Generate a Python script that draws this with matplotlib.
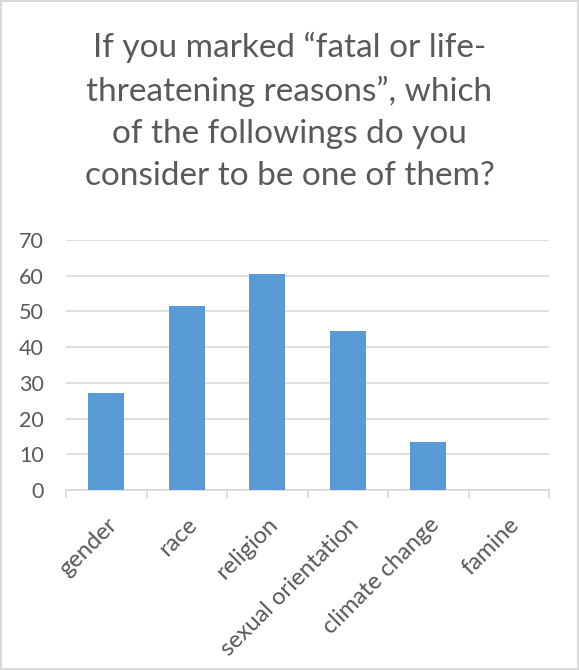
import matplotlib.pyplot as plt
from matplotlib.patches import Rectangle

categories = ['gender', 'race', 'religion', 'sexual orientation', 'climate change', 'famine']
counts = [27.3, 51.5, 60.6, 44.5, 13.4, 0]
title = 'If you marked \u201cfatal or life-\nthreatening reasons\u201d, which\nof the followings do you\nconsider to be one of them?'

plt.rcParams['font.family'] = ['Lato', 'DejaVu Sans']
text_color = '#595959'
grid_color = '#D9D9D9'

fig = plt.figure(figsize=(5.79, 6.70), dpi=100)
ax = fig.add_axes([66 / 579, 1 - 490 / 670, (549 - 66) / 579, (490 - 240) / 670])

index = range(len(categories))
ax.bar(index, counts, width=0.45, color='#5B9BD5', zorder=3)

ax.set_xlim(-0.5, len(categories) - 0.5)
ax.set_ylim(0, 70)
ax.set_yticks(range(0, 71, 10))
ax.yaxis.grid(True, color=grid_color, linewidth=1.2, zorder=0)

for side in ['top', 'right', 'left']:
    ax.spines[side].set_visible(False)
ax.spines['bottom'].set_color(grid_color)
ax.spines['bottom'].set_linewidth(1.2)

# category boundary ticks, Excel style
ax.set_xticks([i - 0.5 for i in range(len(categories) + 1)], minor=False)
ax.set_xticklabels([])
ax.tick_params(axis='x', which='major', length=6, color=grid_color, width=1.2)
ax.set_xticks(list(index), minor=True)
ax.set_xticklabels(categories, minor=True, rotation=45, ha='right',
                   rotation_mode='anchor', fontsize=17, color=text_color)
ax.tick_params(axis='x', which='minor', length=0, pad=17)
ax.tick_params(axis='y', length=0, labelsize=15.5, labelcolor=text_color, pad=16)

fig.text(0.5, 0.952, title, ha='center', va='top', fontsize=24,
         color=text_color, linespacing=1.5)

fig.patches.append(Rectangle((0.002, 0.002), 0.996, 0.996, transform=fig.transFigure,
                             fill=False, edgecolor=grid_color, linewidth=1.5))

fig.savefig('out.png', dpi=100)
